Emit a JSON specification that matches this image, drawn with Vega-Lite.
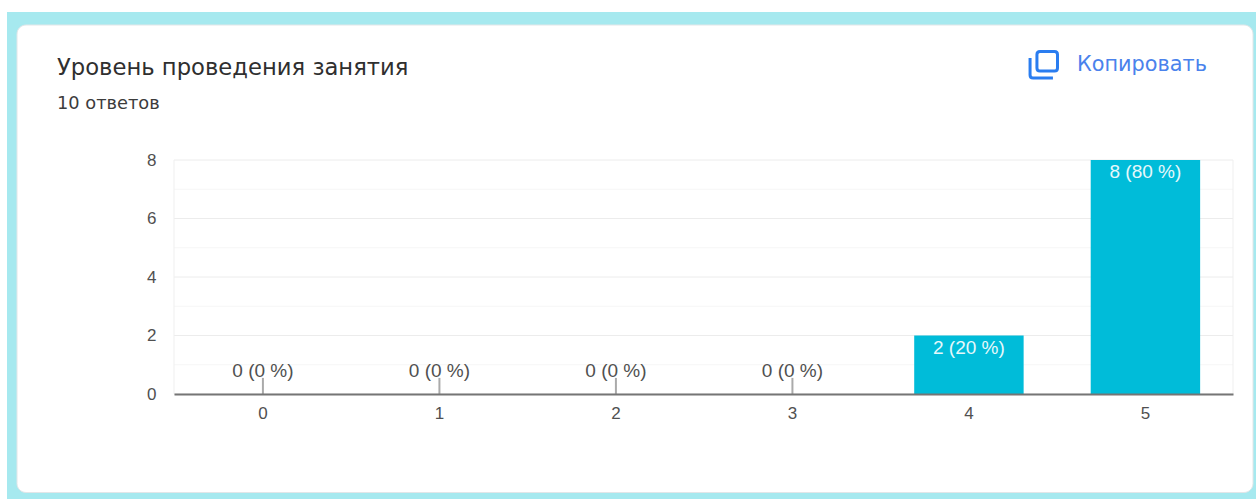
{"$schema":"https://vega.github.io/schema/vega-lite/v6.json","width":1059,"height":234,"autosize":{"type":"none"},"padding":{"left":174,"top":160,"right":23,"bottom":105},"background":"#ffffff","datasets":{"scores":[{"score":"0","count":0,"label":"0 (0 %)"},{"score":"1","count":0,"label":"0 (0 %)"},{"score":"2","count":0,"label":"0 (0 %)"},{"score":"3","count":0,"label":"0 (0 %)"},{"score":"4","count":2,"label":"2 (20 %)"},{"score":"5","count":8,"label":"8 (80 %)"}],"grid":[{"v":0},{"v":1},{"v":2},{"v":3},{"v":4},{"v":5},{"v":6},{"v":7},{"v":8}]},"data":{"name":"scores"},"layer":[{"data":{"values":[{"part":"frame"}]},"mark":{"type":"rect","fill":"#a6e9ef"},"encoding":{"x":{"value":-167},"x2":{"value":1082},"y":{"value":-148},"y2":{"value":339}}},{"data":{"values":[{"part":"card"}]},"mark":{"type":"rect","fill":"#ffffff","stroke":"#e2e6e8","strokeWidth":1,"cornerRadius":9},"encoding":{"x":{"value":-157},"x2":{"value":1079},"y":{"value":-135},"y2":{"value":332.5}}},{"data":{"name":"grid"},"mark":{"type":"rule","strokeWidth":1},"encoding":{"y":{"field":"v","type":"quantitative","scale":{"domain":[0,8],"nice":false},"axis":{"values":[0,2,4,6,8],"title":null,"grid":false,"domain":false,"ticks":false,"labelFont":"Liberation Sans","labelFontSize":17,"labelColor":"#505050","labelPadding":18,"labelBaseline":"middle","zindex":1}},"color":{"condition":{"test":"datum.v % 2 === 0","value":"#ececec"},"value":"#f6f6f6"}}},{"data":{"values":[{"edge":"left"}]},"mark":{"type":"rule","color":"#efefef"},"encoding":{"x":{"value":0},"y":{"datum":8},"y2":{"datum":0}}},{"data":{"values":[{"edge":"right"}]},"mark":{"type":"rule","color":"#efefef"},"encoding":{"x":{"value":1059},"y":{"datum":8},"y2":{"datum":0}}},{"mark":{"type":"bar","color":"#00bcd9"},"encoding":{"x":{"field":"score","type":"ordinal","scale":{"paddingInner":0.38,"paddingOuter":0.19,"align":0.51},"axis":{"title":null,"labelAngle":0,"ticks":false,"domain":true,"domainColor":"#757575","domainWidth":2,"labelFont":"Liberation Sans","labelFontSize":17,"labelColor":"#505050","labelPadding":11,"zindex":1}},"y":{"field":"count","type":"quantitative"}}},{"transform":[{"filter":"datum.count === 0"}],"mark":{"type":"rule","color":"#aaaaaa","strokeWidth":2},"encoding":{"x":{"field":"score","type":"ordinal"},"y":{"datum":0.55},"y2":{"datum":0}}},{"transform":[{"filter":"datum.count === 0"}],"mark":{"type":"text","font":"Liberation Sans","fontSize":19,"color":"#505050","dy":-23,"baseline":"middle"},"encoding":{"x":{"field":"score","type":"ordinal"},"y":{"field":"count","type":"quantitative"},"text":{"field":"label"}}},{"transform":[{"filter":"datum.count > 0"}],"mark":{"type":"text","font":"Liberation Sans","fontSize":19,"color":"#e6f8fb","dy":12,"baseline":"middle"},"encoding":{"x":{"field":"score","type":"ordinal"},"y":{"field":"count","type":"quantitative"},"text":{"field":"label"}}},{"data":{"values":[{"action":"copy"}]},"mark":{"type":"point","filled":false,"stroke":"#2a7df0","strokeWidth":3,"size":1024,"opacity":1,"shape":"M-0.41,-0.62 Q-0.41,-0.81 -0.22,-0.81 L0.69,-0.81 Q0.875,-0.81 0.875,-0.62 L0.875,0.22 Q0.875,0.41 0.69,0.41 L-0.22,0.41 Q-0.41,0.41 -0.41,0.22 Z M-0.84,-0.41 L-0.84,0.65 Q-0.84,0.84 -0.65,0.84 L0.59,0.84"},"encoding":{"x":{"value":869.5},"y":{"value":-95.5}}},{"data":{"values":[{"action":"Копировать"}]},"mark":{"type":"text","font":"DejaVu Sans","fontSize":20.8,"color":"#4a82ec","align":"left","baseline":"middle"},"encoding":{"x":{"value":903},"y":{"value":-95},"text":{"field":"action"}}},{"data":{"values":[{"heading":"Уровень проведения занятия"}]},"mark":{"type":"text","font":"DejaVu Sans","fontSize":22.7,"color":"#2f2f2f","align":"left","baseline":"middle"},"encoding":{"x":{"value":-117},"y":{"value":-92},"text":{"field":"heading"}}},{"data":{"values":[{"heading":"10 ответов"}]},"mark":{"type":"text","font":"DejaVu Sans","fontSize":17.8,"color":"#3c3c3c","align":"left","baseline":"middle"},"encoding":{"x":{"value":-117},"y":{"value":-56},"text":{"field":"heading"}}}],"config":{"view":{"stroke":null}}}
